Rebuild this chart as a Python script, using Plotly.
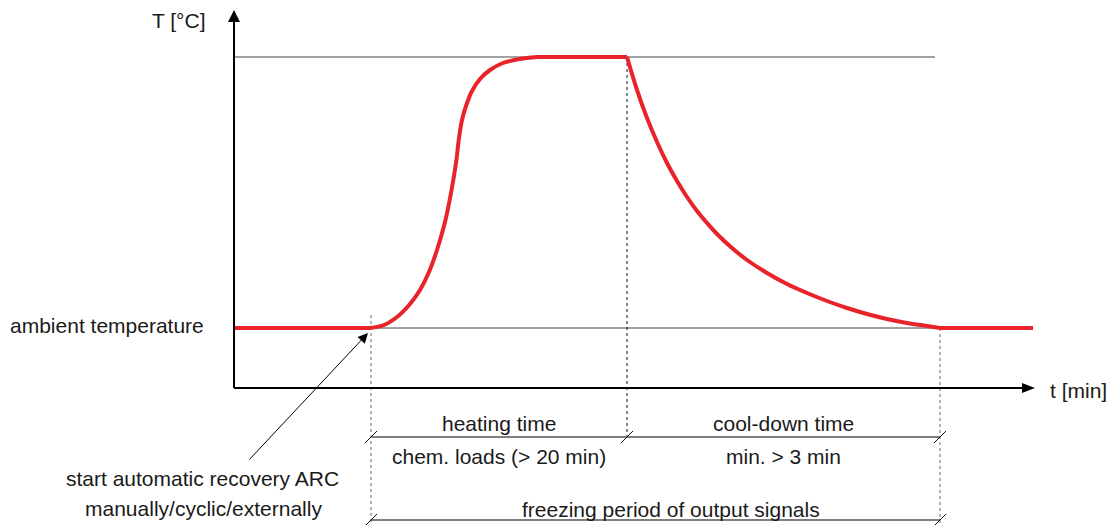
import plotly.graph_objects as go

# ---- data (time units along t, temperature units along T; origin = axis corner) ----
t_pre = [0, 136]
T_pre = [60, 60]
t_heat = [136, 150, 163, 176, 186, 195, 203, 211, 217, 222, 225, 228, 232, 238, 246, 256, 269, 286, 303]
T_heat = [60, 63, 71, 84, 98, 116, 138, 166, 195, 225, 250, 268, 282, 297, 309, 318, 325, 329, 331]
t_hold = [303, 393]
T_hold = [331, 331]
t_cool = [393, 403, 413, 423, 433, 443, 453, 463, 473, 483, 498, 513, 533, 553, 573, 593, 613, 633, 653, 673, 693, 706]
T_cool = [331, 298, 270, 246, 225, 207, 191, 177, 165, 154, 140, 128, 115, 104, 95, 87, 80, 74, 69, 65, 62, 60]
t_post = [706, 799]
T_post = [60, 60]

T_ambient = 60
T_max = 331
t_start = 137       # start of automatic recovery
t_hold_end = 393    # end of heating / start of cool-down
t_cool_end = 706    # end of cool-down
t_axis_end = 801
T_axis_end = 378

labels_top = ["heating time", "cool-down time"]
labels_sub = ["chem. loads (> 20 min)", "min. > 3 min"]
label_total = "freezing period of output signals"
label_start = ["start automatic recovery ARC", "manually/cyclic/externally"]

FONT = "Liberation Sans, Arial, sans-serif"
RED = "#E8242A"
FS = 21

fig = go.Figure()
for xs, ys, shp in [(t_pre, T_pre, "linear"), (t_heat, T_heat, "spline"),
                    (t_hold, T_hold, "linear"), (t_cool, T_cool, "spline"),
                    (t_post, T_post, "linear")]:
    fig.add_trace(go.Scatter(x=xs, y=ys, mode="lines",
                             line=dict(color=RED, width=4, shape=shp,
                                       smoothing=1.0 if shp == "spline" else None),
                             hoverinfo="skip"))

shapes = []
def line(x0, y0, x1, y1, color="#000", width=1, dash="solid", layer="below"):
    shapes.append(dict(type="line", x0=x0, y0=y0, x1=x1, y1=y1, xref="x", yref="y",
                       line=dict(color=color, width=width, dash=dash), layer=layer))

# reference levels
line(0, T_max, 701, T_max, color="#444", width=1)
line(0, T_ambient, t_cool_end, T_ambient, color="#444", width=1)

# vertical dotted lines
line(t_start, T_ambient + 13, t_start, -137, color="#666", width=1, dash="dot")
line(t_hold_end, T_max, t_hold_end, -53, color="#111", width=1, dash="dot")
line(t_cool_end, T_ambient, t_cool_end, -137, color="#666", width=1, dash="dot")

# dimension lines
y_dim1 = -49
y_dim2 = -132
line(t_start, y_dim1, t_cool_end, y_dim1, color="#555", width=1.5)
line(t_start, y_dim2, t_cool_end, y_dim2, color="#555", width=1.5)
for tx in [t_start, t_hold_end, t_cool_end]:
    line(tx - 6, y_dim1 - 6, tx + 6, y_dim1 + 6, color="#111", width=1)
for tx in [t_start, t_cool_end]:
    line(tx - 6, y_dim2 - 6, tx + 6, y_dim2 + 6, color="#111", width=1)

# axes
line(0, 0, 0, T_axis_end - 10, color="#000", width=2, layer="above")
line(0, 0, t_axis_end - 12, 0, color="#000", width=2, layer="above")
shapes.append(dict(type="path", xref="x", yref="y", fillcolor="#000", line=dict(width=0),
                   path=f"M -6 {T_axis_end-12} L 6 {T_axis_end-12} L 0 {T_axis_end} Z"))
shapes.append(dict(type="path", xref="x", yref="y", fillcolor="#000", line=dict(width=0),
                   path=f"M {t_axis_end-13} 5 L {t_axis_end-13} -5 L {t_axis_end} 0 Z"))

annotations = []
def text(x, y, s, xanchor="center"):
    annotations.append(dict(x=x, y=y, xref="x", yref="y", text=s, showarrow=False,
                            xanchor=xanchor, yanchor="middle",
                            font=dict(family=FONT, size=FS, color="#1a1a1a")))

text(-55, 368, "T [°C]")
text(-28, 63, "ambient temperature", xanchor="right")
text(814, -2, "t [min]", xanchor="left")
text((t_start + t_hold_end) / 2, -35, labels_top[0])
text((t_hold_end + t_cool_end) / 2, -35, labels_top[1])
text((t_start + t_hold_end) / 2, -68, labels_sub[0])
text((t_hold_end + t_cool_end) / 2, -68, labels_sub[1])
text((t_start + t_cool_end) / 2 + 15, -121, label_total)
text(-32, -90, label_start[0])
text(-31, -120, label_start[1])
# pointer arrow
annotations.append(dict(x=t_start - 3, y=T_ambient - 5, ax=14, ay=-73, xref="x", yref="y",
                        axref="x", ayref="y", text="", showarrow=True,
                        arrowhead=2, arrowsize=2, arrowwidth=1, arrowcolor="#000"))

fig.update_layout(
    width=1115, height=525,
    margin=dict(l=0, r=0, t=0, b=0),
    paper_bgcolor="white", plot_bgcolor="white",
    showlegend=False,
    xaxis=dict(range=[-234, 881], visible=False, fixedrange=True),
    yaxis=dict(range=[-137, 388], visible=False, fixedrange=True),
    shapes=shapes, annotations=annotations,
)
fig.write_html("out.html", config={"displayModeBar": False},
               post_script="document.body.style.margin='0';document.body.style.overflow='hidden';")
